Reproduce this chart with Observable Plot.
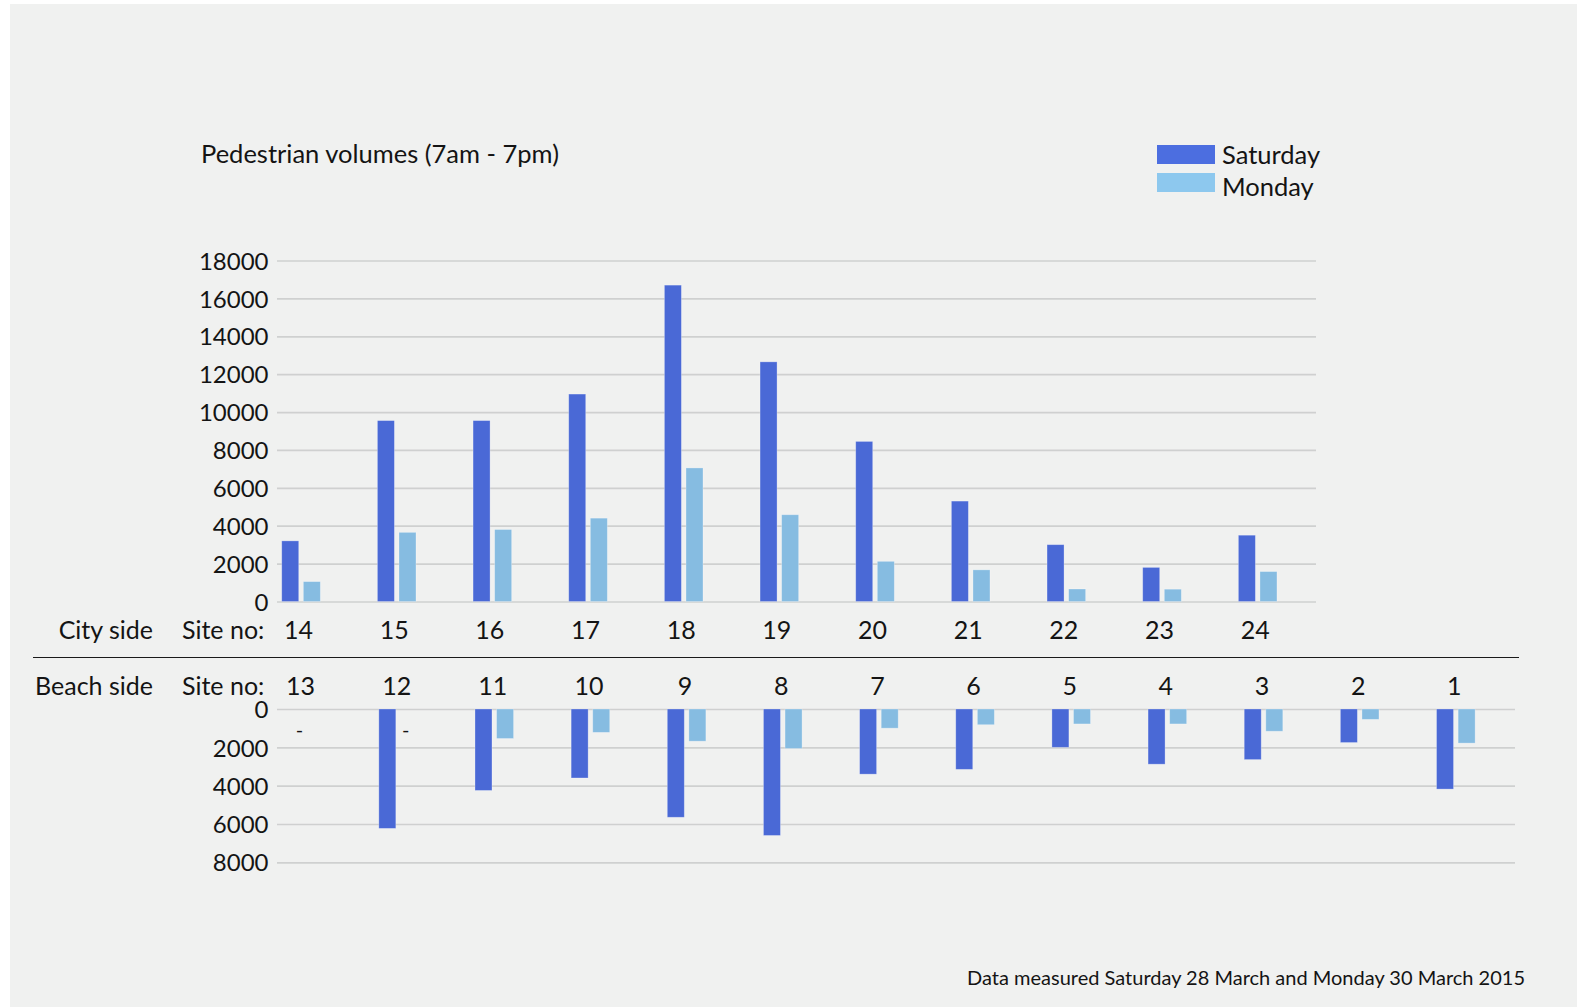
<!DOCTYPE html>
<html>
<head>
<meta charset="utf-8">
<script src="https://cdn.jsdelivr.net/npm/d3@7"></script>
<script src="https://cdn.jsdelivr.net/npm/@observablehq/plot@0.6"></script>
<style>
html, body { margin: 0; padding: 0; background: #ffffff; }
#page { position: relative; width: 1577px; height: 1007px; overflow: hidden; background: #ffffff; font-family: Lato, "Open Sans", sans-serif; color: #141414; }
#bg { position: absolute; left: 10px; top: 4px; right: 0; bottom: 0; background: #f0f1f0; }
.abs { position: absolute; white-space: nowrap; line-height: 1; }
#page svg { position: absolute; left: 0; top: 0; }
</style>
</head>
<body>
<div id="page">
  <div id="bg"></div>
  <div class="abs" style="left:201px; top:140.5px; font-size:25.5px;">Pedestrian volumes (7am - 7pm)</div>

  <div class="abs" style="left:1157px; top:145px; width:58px; height:19px; background:#4c6ee0;"></div>
  <div class="abs" style="left:1157px; top:172.5px; width:58px; height:19px; background:#8dc8ee;"></div>
  <div class="abs" style="left:1222px; top:141.5px; font-size:25.5px;">Saturday</div>
  <div class="abs" style="left:1222px; top:173.5px; font-size:25.5px;">Monday</div>

  <div class="abs" style="left:0; width:153px; text-align:right; top:617.4px; font-size:25px;">City side</div>
  <div class="abs" style="left:182px; top:617.4px; font-size:25px;">Site no:</div>
  <div class="abs" style="left:33px; top:656.7px; width:1486px; height:1.4px; background:#1a1a1a;"></div>
  <div class="abs" style="left:0; width:153px; text-align:right; top:672.8px; font-size:25px;">Beach side</div>
  <div class="abs" style="left:182px; top:672.8px; font-size:25px;">Site no:</div>

  <div class="abs" style="left:0; width:1525px; text-align:right; top:967px; font-size:20px;">Data measured Saturday 28 March and Monday 30 March 2015</div>
</div>
<script>
// ---- data ----
const citySites = ["14", "15", "16", "17", "18", "19", "20", "21", "22", "23", "24"];
const citySaturday = [3200, 9550, 9550, 10950, 16700, 12650, 8450, 5300, 3000, 1800, 3500];
const cityMonday = [1050, 3650, 3800, 4400, 7050, 4580, 2120, 1670, 660, 650, 1580];

const beachSites = ["13", "12", "11", "10", "9", "8", "7", "6", "5", "4", "3", "2", "1"];
const beachSaturday = [null, 6230, 4250, 3600, 5650, 6600, 3400, 3150, 2000, 2880, 2640, 1750, 4180];
const beachMonday = [null, null, 1540, 1220, 1680, 2060, 1000, 820, 780, 780, 1160, 540, 1780];

const cityTicks = [0, 2000, 4000, 6000, 8000, 10000, 12000, 14000, 16000, 18000];
const beachTicks = [0, 2000, 4000, 6000, 8000];

// ---- styles ----
const SAT = "#4a69d6";
const MON = "#86bce1";
const GRID = "#cfd0d0";
const W = 1577, H = 1007;
const barW = 17, gap = 4.6;
const FONT = "Lato, 'Open Sans', sans-serif";
const INK = "#141414";

const cityRows = citySites.map((s, i) => ({site: s, sat: citySaturday[i], mon: cityMonday[i]}));
const beachRows = beachSites.map((s, i) => ({site: s, sat: beachSaturday[i], mon: beachMonday[i]}));

function insets(bw) {
  const half = bw / 2;
  return {
    sat: {insetLeft: half - gap / 2 - barW, insetRight: half + gap / 2},
    mon: {insetLeft: half + gap / 2, insetRight: half - gap / 2 - barW}
  };
}

const pageEl = document.getElementById("page");
const fmt = d3.format("d");

// ---- upper panel (city side) ----
const cityRange = [253.2, 1305.5];
const cityBW = (cityRange[1] - cityRange[0]) / citySites.length;
const ci = insets(cityBW);
const cityPlot = Plot.plot({
  width: W, height: H,
  marginLeft: 277, marginRight: W - 1316, marginTop: 260.5, marginBottom: H - 601.5,
  style: {fontFamily: FONT, fontSize: "24px", color: INK, background: "transparent", overflow: "visible"},
  x: {type: "band", domain: citySites, range: cityRange, padding: 0, round: false, axis: null},
  y: {domain: [0, 18000], range: [601.5, 260.5], axis: null},
  marks: [
    Plot.ruleY(cityTicks, {stroke: GRID, strokeWidth: 1.7}),
    Plot.axisY(cityTicks, {anchor: "left", tickSize: 0, tickPadding: 9, tickFormat: fmt, fontSize: 24, label: null, fill: INK, dy: 1}),
    Plot.barY(cityRows, {x: "site", y: "sat", fill: SAT, stroke: "#ffffff", strokeOpacity: 0.35, strokeWidth: 0.8, ...ci.sat}),
    Plot.barY(cityRows, {x: "site", y: "mon", fill: MON, stroke: "#ffffff", strokeOpacity: 0.35, strokeWidth: 0.8, ...ci.mon}),
    Plot.text(citySites, {x: d => d, text: d => d, frameAnchor: "bottom", lineAnchor: "middle", dy: 29, dx: -3, fontSize: 25, fill: INK})
  ]
});
pageEl.appendChild(cityPlot);

// ---- lower panel (beach side) ----
const beachRange = [253.9, 1503.9];
const beachBW = (beachRange[1] - beachRange[0]) / beachSites.length;
const bi = insets(beachBW);
const bothMissing = beachRows.filter(d => d.sat == null && d.mon == null);
const monMissing = beachRows.filter(d => d.sat != null && d.mon == null);
const satMissing = beachRows.filter(d => d.sat == null && d.mon != null);
const beachPlot = Plot.plot({
  width: W, height: H,
  marginLeft: 277, marginRight: W - 1515, marginTop: 709, marginBottom: H - 862.3,
  style: {fontFamily: FONT, fontSize: "24px", color: INK, background: "transparent", overflow: "visible"},
  x: {type: "band", domain: beachSites, range: beachRange, padding: 0, round: false, axis: null},
  y: {domain: [0, 8000], range: [709, 862.3], axis: null},
  marks: [
    Plot.ruleY(beachTicks, {stroke: GRID, strokeWidth: 1.7}),
    Plot.axisY(beachTicks, {anchor: "left", tickSize: 0, tickPadding: 9, tickFormat: fmt, fontSize: 24, label: null, fill: INK, dy: 1}),
    Plot.barY(beachRows, {x: "site", y: "sat", fill: SAT, stroke: "#ffffff", strokeOpacity: 0.35, strokeWidth: 0.8, ...bi.sat}),
    Plot.barY(beachRows, {x: "site", y: "mon", fill: MON, stroke: "#ffffff", strokeOpacity: 0.35, strokeWidth: 0.8, ...bi.mon}),
    Plot.text(bothMissing, {x: "site", text: () => "-", frameAnchor: "top", lineAnchor: "middle", dy: 21, dx: -3, fontSize: 20, fill: INK}),
    Plot.text(monMissing, {x: "site", text: () => "-", frameAnchor: "top", lineAnchor: "middle", dy: 21, dx: 7, fontSize: 20, fill: INK}),
    Plot.text(satMissing, {x: "site", text: () => "-", frameAnchor: "top", lineAnchor: "middle", dy: 21, dx: -11, fontSize: 20, fill: INK}),
    Plot.text(beachSites, {x: d => d, text: d => d, frameAnchor: "top", lineAnchor: "middle", dy: -23, dx: -2, fontSize: 25, fill: INK})
  ]
});
pageEl.appendChild(beachPlot);
</script>
</body>
</html>
